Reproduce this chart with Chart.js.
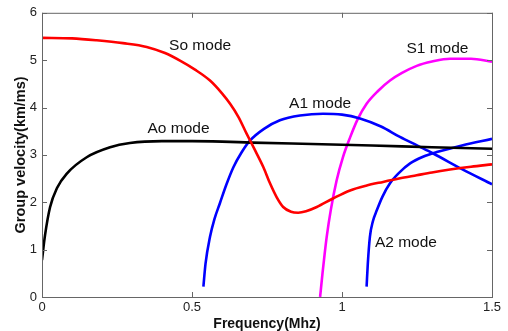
<!DOCTYPE html>
<html>
<head>
<meta charset="utf-8">
<script src="https://cdn.jsdelivr.net/npm/chart.js@4"></script>
<style>
  html, body { margin: 0; padding: 0; background: #fff; }
  #wrap { width: 508px; height: 331px; }
</style>
</head>
<body>
<div id="wrap"><canvas id="mode-chart" width="508" height="331"></canvas></div>
<script>
// frequency (MHz) / group velocity (km/ms)
var freqAo = [0, 0.01, 0.027, 0.05, 0.082, 0.149, 0.227, 0.293, 0.4, 0.5, 0.6, 0.7, 0.9, 1.1, 1.3, 1.5];
var velAo  = [0.78, 1.3, 1.9, 2.3, 2.6, 2.95, 3.16, 3.25, 3.29, 3.29, 3.28, 3.26, 3.23, 3.2, 3.16, 3.13];

var freqSo = [0, 0.1, 0.182, 0.27, 0.349, 0.41, 0.46, 0.51, 0.56, 0.6, 0.627, 0.655, 0.682, 0.71, 0.738, 0.76, 0.782, 0.804, 0.83, 0.854, 0.88, 0.916, 0.97, 1.027, 1.08, 1.137, 1.19, 1.249, 1.3, 1.36, 1.43, 1.5];
var velSo  = [5.47, 5.46, 5.42, 5.36, 5.28, 5.15, 4.99, 4.8, 4.57, 4.3, 4.08, 3.8, 3.45, 3.1, 2.74, 2.4, 2.11, 1.9, 1.8, 1.78, 1.81, 1.9, 2.08, 2.25, 2.35, 2.43, 2.5, 2.57, 2.63, 2.69, 2.75, 2.8];

var freqA1 = [0.538, 0.545, 0.56, 0.575, 0.593, 0.615, 0.638, 0.665, 0.693, 0.74, 0.793, 0.86, 0.937, 1.0, 1.06, 1.13, 1.193, 1.25, 1.304, 1.4, 1.5];
var velA1  = [0.22, 0.7, 1.27, 1.65, 1.98, 2.38, 2.74, 3.05, 3.3, 3.55, 3.73, 3.83, 3.87, 3.85, 3.77, 3.6, 3.38, 3.2, 3.03, 2.7, 2.38];

var freqA2 = [1.082, 1.086, 1.093, 1.103, 1.116, 1.135, 1.16, 1.19, 1.227, 1.27, 1.316, 1.4, 1.5];
var velA2  = [0.22, 0.7, 1.27, 1.6, 1.83, 2.12, 2.4, 2.62, 2.82, 2.96, 3.06, 3.2, 3.34];

var freqS1 = [0.927, 0.935, 0.942, 0.949, 0.963, 0.982, 1.003, 1.027, 1.052, 1.082, 1.12, 1.16, 1.2, 1.249, 1.3, 1.36, 1.43, 1.5];
var velS1  = [0, 0.5, 0.9, 1.27, 1.85, 2.46, 2.95, 3.37, 3.75, 4.08, 4.35, 4.57, 4.73, 4.88, 4.97, 5.03, 5.03, 4.97];

var xTicks = [0, 0.5, 1, 1.5];
var yTicks = [0, 1, 2, 3, 4, 5, 6];

// curve names placed in data units
var modeNames = ['So mode', 'Ao mode', 'A1 mode', 'S1 mode', 'A2 mode'];
var nameFreq  = [0.527, 0.455, 0.927, 1.318, 1.213];
var nameVel   = [5.3, 3.56, 4.08, 5.24, 1.14];

Chart.defaults.font.family = "'Liberation Sans', Arial, sans-serif";
Chart.defaults.color = '#222';

function toPoints(xs, ys) {
    return xs.map(function (x, i) { return { x: x, y: ys[i] }; });
}

function curve(xs, ys, color) {
    return {
        data: toPoints(xs, ys),
        showLine: true,
        borderColor: color,
        backgroundColor: color,
        borderWidth: 2.6,
        pointRadius: 0,
        cubicInterpolationMode: 'monotone',
        fill: false
    };
}

// box, inward ticks and curve names, MATLAB style
var boxPlugin = {
    id: 'boxPlugin',
    afterDraw: function (chart) {
        var ctx = chart.ctx;
        var a = chart.chartArea;
        var xs = chart.scales.x, ys = chart.scales.y;
        ctx.save();
        ctx.strokeStyle = '#666';
        ctx.lineWidth = 1;
        ctx.strokeRect(a.left + 0.5, a.top + 0.5, a.right - a.left, a.bottom - a.top);
        ctx.beginPath();
        xTicks.forEach(function (v) {
            var px = Math.round(xs.getPixelForValue(v)) + 0.5;
            ctx.moveTo(px, a.bottom); ctx.lineTo(px, a.bottom - 5);
            ctx.moveTo(px, a.top); ctx.lineTo(px, a.top + 5);
        });
        yTicks.forEach(function (v) {
            var py = Math.round(ys.getPixelForValue(v)) + 0.5;
            ctx.moveTo(a.left, py); ctx.lineTo(a.left + 5, py);
            ctx.moveTo(a.right, py); ctx.lineTo(a.right - 5, py);
        });
        ctx.stroke();

        ctx.fillStyle = '#111';
        ctx.font = "15.5px 'Liberation Sans', Arial, sans-serif";
        ctx.textAlign = 'center';
        ctx.textBaseline = 'middle';
        modeNames.forEach(function (t, i) {
            ctx.fillText(t, xs.getPixelForValue(nameFreq[i]), ys.getPixelForValue(nameVel[i]));
        });
        ctx.restore();
    }
};

function plainLabel(v) { return String(v); }

new Chart(document.getElementById('mode-chart'), {
    type: 'scatter',
    data: {
        datasets: [
            curve(freqSo, velSo, '#ff0000'),
            curve(freqAo, velAo, '#000000'),
            curve(freqA1, velA1, '#0000ff'),
            curve(freqA2, velA2, '#0000ff'),
            curve(freqS1, velS1, '#ff00ff')
        ]
    },
    options: {
        responsive: false,
        animation: false,
        layout: { padding: { top: 12, right: 16, left: 0, bottom: 0 } },
        plugins: {
            legend: { display: false },
            tooltip: { enabled: false }
        },
        scales: {
            x: {
                type: 'linear',
                min: 0,
                max: 1.5,
                afterFit: function (s) { s.height = 34; },
                afterBuildTicks: function (s) { s.ticks = xTicks.map(function (v) { return { value: v }; }); },
                grid: { display: false, drawTicks: false, tickLength: 0 },
                border: { display: false },
                ticks: { padding: 3, maxRotation: 0, autoSkip: false, font: { size: 13 }, callback: plainLabel },
                title: {
                    display: true,
                    text: 'Frequency(Mhz)',
                    padding: { top: 0, bottom: -2 },
                    color: '#111',
                    font: { size: 14, weight: 'bold' }
                }
            },
            y: {
                type: 'linear',
                min: 0,
                max: 6,
                afterFit: function (s) { s.width = 42; },
                afterBuildTicks: function (s) { s.ticks = yTicks.map(function (v) { return { value: v }; }); },
                grid: { display: false, drawTicks: false, tickLength: 0 },
                border: { display: false },
                ticks: { padding: 5, font: { size: 13 }, callback: plainLabel },
                title: {
                    display: true,
                    text: 'Group velocity(km/ms)',
                    padding: { top: 12, bottom: 0 },
                    color: '#111',
                    font: { size: 14.5, weight: 'bold' }
                }
            }
        }
    },
    plugins: [boxPlugin]
});
</script>
</body>
</html>
